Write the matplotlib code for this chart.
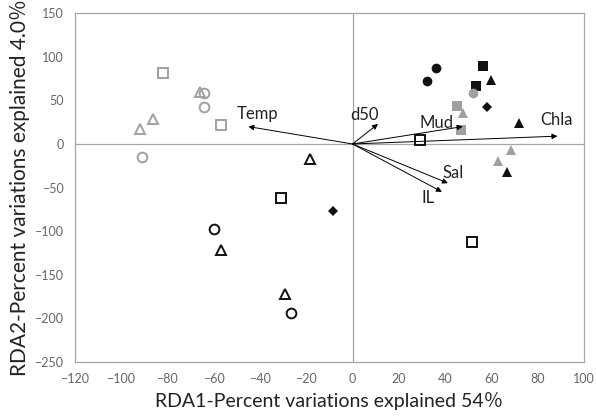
import matplotlib
matplotlib.use("Agg")
import matplotlib.pyplot as plt

plt.rcParams['font.family'] = ['Lato', 'Noto Sans CJK JP', 'DejaVu Sans']

gray = '#a0a0a0'
black = '#111111'

# site scores, grouped by marker
gray_open_sq_x = [-82, -57]
gray_open_sq_y = [82, 22]
gray_open_tri_x = [-66, -86, -92]
gray_open_tri_y = [60, 29, 17]
gray_open_circ_x = [-64, -64, -91]
gray_open_circ_y = [58, 42, -15]

black_open_tri_x = [-18.5, -57, -29]
black_open_tri_y = [-17.6, -122, -172]
black_open_sq_x = [-31, 29, 51.5]
black_open_sq_y = [-62, 5, -113]
black_open_circ_x = [-60, -26.5]
black_open_circ_y = [-98, -194]

black_diam_x = [-8.5, 58]
black_diam_y = [-76.5, 42]
black_circ_x = [36, 32]
black_circ_y = [87, 72]
black_sq_x = [56.5, 53.5]
black_sq_y = [89.5, 66.5]
black_tri_x = [60, 72, 66.5]
black_tri_y = [73.5, 24.5, -32]

gray_circ_x = [52]
gray_circ_y = [58]
gray_sq_x = [45, 47]
gray_sq_y = [44, 16]
gray_tri_x = [47.5, 68.5, 63]
gray_tri_y = [36, -7, -20]

# environmental vectors
env_names = ['Temp', 'd50', 'Mud', 'Chla', 'Sal', 'IL']
env_x = [-45, 11, 47.6, 88.5, 41.2, 38.6]
env_y = [20, 23, 20, 9, -45, -55]
lab_x = [-50, -1, 29, 81, 39, 30]
lab_y = [35, 33, 24, 28, -33, -62]

fig = plt.figure(figsize=(5.96, 4.19), dpi=100)
ax = fig.add_axes([0.1253, 0.137, 0.8547, 0.831])

ms = 7
open_kw = dict(linestyle='none', markerfacecolor='none', markeredgewidth=1.4, markersize=ms)
ax.plot(gray_open_sq_x, gray_open_sq_y, 's', markeredgecolor=gray, **open_kw)
ax.plot(gray_open_tri_x, gray_open_tri_y, '^', markeredgecolor=gray, **open_kw)
ax.plot(gray_open_circ_x, gray_open_circ_y, 'o', markeredgecolor=gray, **open_kw)
ax.plot(black_open_tri_x, black_open_tri_y, '^', markeredgecolor=black, **open_kw)
ax.plot(black_open_sq_x, black_open_sq_y, 's', markeredgecolor=black, **open_kw)
ax.plot(black_open_circ_x, black_open_circ_y, 'o', markeredgecolor=black, **open_kw)

fill_kw = dict(linestyle='none', markersize=ms, markeredgewidth=0)
ax.plot(black_diam_x, black_diam_y, 'D', color=black, linestyle='none', markersize=5.5, markeredgewidth=0)
ax.plot(black_circ_x, black_circ_y, 'o', color=black, **fill_kw)
ax.plot(black_sq_x, black_sq_y, 's', color=black, **fill_kw)
ax.plot(black_tri_x, black_tri_y, '^', color=black, **fill_kw)
ax.plot(gray_circ_x, gray_circ_y, 'o', color=gray, **fill_kw)
ax.plot(gray_sq_x, gray_sq_y, 's', color=gray, **fill_kw)
ax.plot(gray_tri_x, gray_tri_y, '^', color=gray, **fill_kw)

for name, x, y, lx, ly in zip(env_names, env_x, env_y, lab_x, lab_y):
    ax.annotate('', xy=(x, y), xytext=(0, 0),
                arrowprops=dict(arrowstyle='-|>', color='black', lw=0.7, mutation_scale=8,
                                shrinkA=0, shrinkB=0))
    ax.text(lx, ly, name, fontsize=12, color='#222222', va='center', ha='left')

ax.axhline(0, color='#a6a6a6', lw=0.9, zorder=0)
ax.axvline(0, color='#a6a6a6', lw=0.9, zorder=0)

ax.set_xlim(-120, 100)
ax.set_ylim(-250, 150)
ax.set_xticks(range(-120, 101, 20))
ax.set_yticks(range(-250, 151, 50))
ax.tick_params(length=0, labelsize=9, labelcolor='#666666', pad=8)
for s in ax.spines.values():
    s.set_color('#a6a6a6')
    s.set_linewidth(0.9)

ax.set_xlabel('RDA1-Percent variations explained 54％', fontsize=14, color='#222222', labelpad=5)
ax.set_ylabel('RDA2-Percent variations explained 4.0％', fontsize=15, color='#222222', labelpad=3)

fig.savefig('out.png', dpi=100)
